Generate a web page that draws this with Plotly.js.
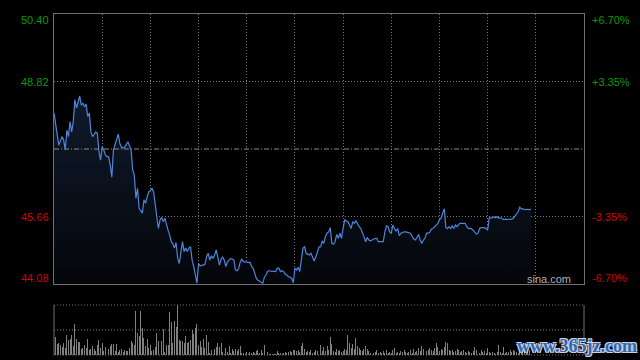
<!DOCTYPE html>
<html>
<head>
<meta charset="utf-8">
<script src="https://cdn.plot.ly/plotly-3.0.1.min.js"></script>
<style>html,body{margin:0;padding:0;background:#000;}#chart{width:640px;height:360px;}</style>
</head>
<body>
<div id="chart"></div>
<script>
// ---- data (minutes since 9:30, HK session 330 min) ----
const prevClose = 47.24;
const priceTicks = [50.40, 48.82, 45.66, 44.08];
const pctTicks = ['+6.70%', '+3.35%', '-3.35%', '-6.70%'];

const minutes = [0,3,5,6,7,8,9,10,11,12,13,14,16,17,18,19,20,21,22,23,24,26,27,28,29,30,31,32,33,34,35,36,37,38,39,40,41,42,43,44,46,47,48,49,50,51,52,53,55,56,57,58,59,60,61,62,63,64,65,66,67,68,69,70,71,72,73,74,75,76,77,78,79,80,81,82,83,84,85,86,87,88,89,90,91,92,93,94,95,96,97,98,99,100,101,102,103,104,105,106,107,108,110,111,112,113,114,115,116,117,118,119,121,122,123,124,125,126,127,128,129,130,131,132,133,134,135,136,138,139,140,141,142,143,144,145,146,147,148,149,150,151,152,153,154,155,156,157,158,159,160,161,162,163,164,165,166,167,168,169,170,171,172,173,174,175,176,177,178,179,180,181,183,184,185,186,187,188,189,190,191,192,193,194,195,196,197,198,199,200,201,202,203,204,205,206,207,208,209,210,211,212,213,214,215,216,217,218,219,221,222,223,224,225,226,227,228,229,230,231,232,233,234,235,236,237,238,239,240,241,242,243,244,245,246,247,248,249,250,251,252,253,255,256,257,258,259,260,261,262,263,264,265,266,267,268,269,270,271,272,273,274,275,276,277,278,279,280,281,282,283,284,285,286,287,288,289,290,291,292,293,294,295,296,297];
const prices = [48.08,47.33,47.53,47.45,47.23,47.68,47.53,47.88,47.64,47.88,48.39,48.20,48.48,48.27,48.31,48.23,48.29,48.00,48.08,47.64,47.53,47.64,47.61,47.18,46.98,47.29,47.22,47.10,47.06,47.06,46.87,46.58,47.22,47.33,47.45,47.59,47.37,47.28,47.26,47.28,47.41,47.33,47.22,46.75,46.63,46.09,46.32,45.85,45.74,46.05,45.97,46.12,46.24,46.26,46.32,46.24,45.89,45.66,45.38,45.58,45.64,45.54,45.62,45.46,45.34,45.23,45.07,45.02,44.92,45.05,44.68,44.56,44.88,45.07,44.84,44.92,44.84,44.92,44.95,44.64,44.49,44.33,44.10,44.56,44.50,44.52,44.52,44.54,44.72,44.80,44.64,44.74,44.68,44.76,44.88,44.71,44.52,44.66,44.71,44.64,44.49,44.60,44.68,44.66,44.64,44.41,44.39,44.45,44.60,44.66,44.60,44.60,44.58,44.59,44.49,44.45,44.31,44.21,44.17,44.15,44.13,44.10,44.24,44.29,44.38,44.39,44.38,44.38,44.37,44.45,44.45,44.37,44.39,44.37,44.31,44.29,44.25,44.24,44.21,44.11,44.45,44.41,44.47,44.37,44.68,44.92,44.95,44.80,44.78,44.76,44.80,44.72,44.62,44.71,44.84,44.95,44.95,45.09,45.03,45.20,45.27,45.30,45.40,45.03,45.01,45.07,45.24,45.15,45.27,45.15,45.38,45.58,45.54,45.44,45.38,45.54,45.50,45.56,45.48,45.42,45.38,45.30,45.19,45.07,45.17,45.11,45.09,45.11,45.13,45.15,45.15,45.07,45.07,45.07,45.07,45.30,45.44,45.42,45.30,45.27,45.46,45.38,45.32,45.38,45.21,45.27,45.29,45.30,45.30,45.29,45.27,45.19,45.13,45.11,45.19,45.24,45.11,45.03,45.11,45.15,45.27,45.27,45.29,45.37,45.38,45.42,45.46,45.50,45.58,45.62,45.74,45.84,45.40,45.38,45.42,45.38,45.44,45.38,45.46,45.42,45.48,45.50,45.50,45.50,45.42,45.38,45.38,45.37,45.34,45.29,45.25,45.27,45.38,45.40,45.40,45.40,45.38,45.34,45.63,45.63,45.63,45.65,45.63,45.66,45.62,45.63,45.60,45.59,45.60,45.59,45.59,45.60,45.60,45.62,45.68,45.71,45.77,45.88,45.84,45.84,45.82,45.83,45.82,45.82,45.83];

// volume per minute, t = 0..297 (hundreds of shares, estimated)
const volume = [257,180,117,123,100,83,123,67,200,157,167,200,90,313,167,133,133,63,73,107,73,163,47,57,90,57,40,100,150,73,120,40,80,67,57,90,110,117,40,113,33,47,57,33,47,40,40,67,147,123,107,453,223,190,447,273,173,90,167,67,107,40,47,80,223,147,90,140,267,33,107,97,440,333,123,347,290,507,157,147,140,123,190,123,133,157,257,213,273,313,107,140,80,167,73,207,133,23,47,123,57,80,123,80,123,33,13,67,33,90,23,57,40,57,40,57,90,23,23,13,33,13,33,23,33,23,40,47,23,47,23,100,13,33,13,13,13,13,13,40,23,23,13,23,33,23,33,40,33,47,47,40,47,33,90,123,57,33,40,33,47,23,33,47,40,57,
107,40,80,40,90,47,180,113,40,33,57,40,47,33,40,57,47,207,123,67,113,57,173,90,73,47,40,57,90,57,40,23,33,23,33,47,23,33,23,40,23,47,23,33,23,47,73,23,33,23,40,33,47,33,23,33,47,23,57,33,40,67,40,90,57,73,40,47,67,47,40,67,123,80,40,57,47,80,133,123,47,40,47,33,40,57,47,33,40,47,33,23,40,33,23,40,80,47,33,23,47,33,40,23,73,33,23,33,23,13,33,107,33,23,80,23,33,33,47,33,47,40,33,23,40,47,33,57,40,33,47,40];
const volMinutes = volume.map((v, i) => i);

const sessionMinutes = 330;
const gridStep = 30;

// ---- build ----
const gridVals = [];
for (let m = gridStep; m < sessionMinutes; m += gridStep) gridVals.push(m);

const priceTrace = {
  x: minutes, y: prices, type: 'scatter', mode: 'lines',
  line: {color: '#4c86dc', width: 1.2},
  fill: 'tozeroy',
  fillgradient: {type: 'vertical', start: priceTicks[3], stop: 48.5,
    colorscale: [[0, 'rgb(4,6,10)'], [1, 'rgb(16,26,44)']]},
  xaxis: 'x', yaxis: 'y', hoverinfo: 'skip'
};
const volTrace = {
  x: volMinutes, y: volume, type: 'bar', width: 0.6,
  marker: {color: '#808080', line: {width: 0}},
  xaxis: 'x2', yaxis: 'y2', hoverinfo: 'skip'
};

const annotations = [];
const shifts = [-6, 0, 0, 6];
priceTicks.forEach((v, i) => {
  const col = v > prevClose ? '#0a9a0a' : '#d20000';
  annotations.push({xref: 'paper', yref: 'y', x: 0, y: v, xanchor: 'right', yanchor: 'middle',
    xshift: -3, yshift: shifts[i], text: v.toFixed(2), showarrow: false,
    font: {family: 'Liberation Sans, Arial, sans-serif', size: 11, color: col}});
  annotations.push({xref: 'paper', yref: 'y', x: 1, y: v, xanchor: 'left', yanchor: 'middle',
    xshift: 6, yshift: shifts[i], text: pctTicks[i], showarrow: false,
    font: {family: 'Liberation Sans, Arial, sans-serif', size: 11, color: col}});
});
annotations.push({xref: 'paper', yref: 'y', x: 1, y: priceTicks[3], xanchor: 'right', yanchor: 'middle',
  xshift: -11, yshift: 5, text: 'sina.com', showarrow: false,
  font: {family: 'Liberation Sans, Arial, sans-serif', size: 11, color: '#b0b0b0'}});
annotations.push({xref: 'paper', yref: 'paper', x: 0.986, y: 0.027, xanchor: 'center', yanchor: 'middle',
  text: 'www.365jz.com', showarrow: false,
  font: {family: 'Liberation Serif, serif', size: 18, weight: 'bold', color: '#3464ac',
    shadow: '1px 1px 0 #c9d6ea, -1px -1px 0 #c9d6ea, 1px -1px 0 #c9d6ea, -1px 1px 0 #c9d6ea'}});

const frameCol = '#707070';
const gridCol = '#7a7a7a';
const dotDash = '1px,2px';
const shapes = [
  {type: 'line', xref: 'paper', yref: 'y', x0: 0, x1: 1, y0: prevClose, y1: prevClose,
    line: {color: '#8c8c8c', width: 1, dash: '5px,2px,1px,2px'}},
  {type: 'line', xref: 'paper', yref: 'y2 domain', x0: 0, x1: 0, y0: 0, y1: 1, line: {color: frameCol, width: 1}},
  {type: 'line', xref: 'paper', yref: 'y2 domain', x0: 1, x1: 1, y0: 0, y1: 1, line: {color: frameCol, width: 1}},
  {type: 'line', xref: 'paper', yref: 'y2 domain', x0: 0, x1: 1, y0: 1, y1: 1, line: {color: gridCol, width: 1, dash: dotDash}},
  {type: 'line', xref: 'paper', yref: 'y2 domain', x0: 0, x1: 1, y0: 0.5, y1: 0.5, line: {color: gridCol, width: 1, dash: dotDash}},
  {type: 'line', xref: 'paper', yref: 'y2 domain', x0: 0, x1: 1, y0: 0, y1: 0, line: {color: gridCol, width: 1, dash: dotDash}}
];

const layout = {
  width: 640, height: 360,
  margin: {l: 54, r: 56, t: 14, b: 5, pad: 0},
  paper_bgcolor: '#000', plot_bgcolor: '#000',
  showlegend: false,
  xaxis: {domain: [0, 1], range: [0, sessionMinutes], anchor: 'y', tickvals: gridVals,
    showticklabels: false, ticks: '', showgrid: true, gridcolor: gridCol, griddash: dotDash, gridwidth: 1,
    zeroline: false, showline: true, mirror: true, linecolor: frameCol, linewidth: 1, fixedrange: true},
  yaxis: {domain: [0.2082, 1], range: [priceTicks[3], priceTicks[0]], anchor: 'x',
    tickvals: [priceTicks[1], priceTicks[2]], showticklabels: false, ticks: '',
    showgrid: true, gridcolor: gridCol, griddash: dotDash, gridwidth: 1,
    zeroline: false, showline: true, mirror: true, linecolor: frameCol, linewidth: 1},
  xaxis2: {domain: [0, 1], range: [0, sessionMinutes], anchor: 'y2', showgrid: false,
    showticklabels: false, ticks: '', zeroline: false, showline: false},
  yaxis2: {domain: [0, 0.1466], range: [0, 510], anchor: 'x2', showgrid: false,
    showticklabels: false, ticks: '', zeroline: false, showline: false},
  bargap: 0,
  annotations: annotations,
  shapes: shapes
};

Plotly.newPlot('chart', [priceTrace, volTrace], layout, {displayModeBar: false, staticPlot: true});
</script>
</body>
</html>
